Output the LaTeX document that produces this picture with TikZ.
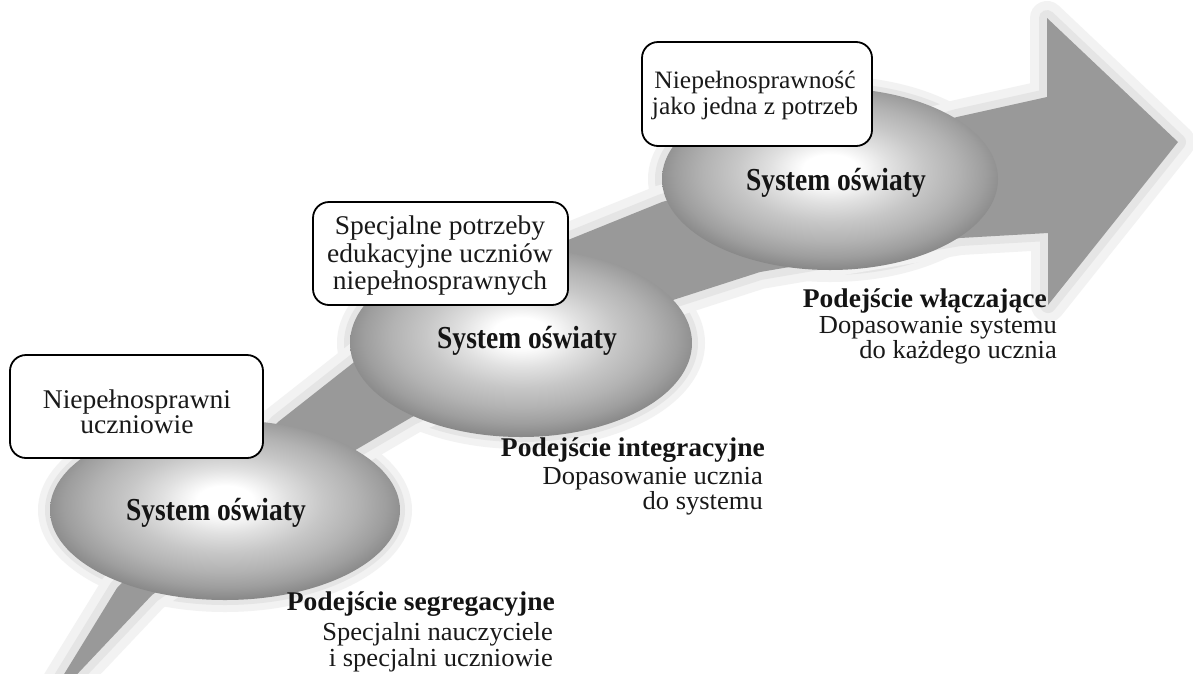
\documentclass[tikz,border=0pt]{standalone}
\usepackage{fontspec}
\setmainfont{Liberation Serif}[FakeStretch=1.02]
\newfontfamily\sysfont{Liberation Serif}[FakeStretch=0.86]
\usetikzlibrary{shapes.geometric}
\pgfdeclareradialshading{orb}{\pgfpoint{0bp}{3bp}}{color(0bp)=(white); color(4bp)=(white); color(9bp)=(black!12); color(14bp)=(black!22); color(19bp)=(black!30); color(23bp)=(black!38); color(26bp)=(black!46); color(29bp)=(black!52); color(50bp)=(black!52)}
\begin{document}
\begin{tikzpicture}[x=1pt,y=-1pt,
  orb/.style={ellipse, inner sep=0pt, draw=none, shading=orb},
  box/.style={draw=black, line width=1.8pt, fill=white, rounded corners=16pt, inner sep=0pt},
  boxtxt/.style={font=\fontsize{27}{30}\selectfont, anchor=base, inner sep=0pt, text=black!90},
  headtxt/.style={font=\bfseries\fontsize{27}{30}\selectfont, anchor=base east, inner sep=0pt, text=black!92},
  subtxt/.style={font=\fontsize{26}{30}\selectfont, anchor=base east, inner sep=0pt, text=black!90},
  systxt/.style={font=\sysfont\bfseries\fontsize{32}{36}\selectfont, anchor=base, inner sep=0pt, text=black!92}]
\useasboundingbox (0,0) rectangle (1193,673);
\fill[white] (0,0) rectangle (1193,673);
% ellipse glows
\fill[black!5] (225,510) ellipse [x radius=187pt, y radius=102pt];
\fill[black!10] (225,510) ellipse [x radius=180pt, y radius=95pt];
\fill[black!5] (521,343) ellipse [x radius=184pt, y radius=106pt];
\fill[black!10] (521,343) ellipse [x radius=177pt, y radius=99pt];
\fill[black!5] (830,179) ellipse [x radius=182pt, y radius=103pt];
\fill[black!10] (830,179) ellipse [x radius=175pt, y radius=96pt];
% band
\path[save path=\bandp] (58,684) -- (117,588) -- (278,422) -- (353,363) -- (450,288) -- (568,240) -- (662,202) -- (957,117) -- (1047,97) -- (1047,18) -- (1178,142) -- (1048,305) -- (1048,233) -- (960,238) -- (760,272) -- (673,300) -- (412,417) -- (352,452) -- (152,595) -- (66,686) -- cycle;
\draw[black!5, line width=34pt, line join=round, use path=\bandp];
\draw[black!10, line width=16pt, line join=round, use path=\bandp];
\fill[black!40, use path=\bandp];
% ellipses
\node[orb, minimum width=350pt, minimum height=180pt] (e1) at (225,510) {};
\node[orb, minimum width=342pt, minimum height=188pt] (e2) at (521,343) {};
\node[orb, minimum width=336pt, minimum height=182pt] (e3) at (830,179) {};
\node[systxt] (s1) at (216,520) {System oświaty};
\node[systxt] (s2) at (527,348) {System oświaty};
\node[systxt] (s3) at (836,190) {System oświaty};
% boxes
\node[box, minimum width=253pt, minimum height=103pt] (b1) at (136.5,406.5) {};
\node[box, minimum width=255pt, minimum height=103pt] (b2) at (440.5,253.5) {};
\node[box, minimum width=230pt, minimum height=104pt] (b3) at (757,94) {};
\node[boxtxt] (b1a) at (137,408) {Niepełnosprawni};
\node[boxtxt] (b1b) at (137,433) {uczniowie};
\node[boxtxt] (b2a) at (440,234) {Specjalne potrzeby};
\node[boxtxt] (b2b) at (440,262) {edukacyjne uczniów};
\node[boxtxt] (b2c) at (440,289) {niepełnosprawnych};
\node[boxtxt, font=\fontsize{25}{30}\selectfont] (b3a) at (755,88) {Niepełnosprawność};
\node[boxtxt, font=\fontsize{25}{30}\selectfont] (b3b) at (755,114) {jako jedna z potrzeb};
% approaches
\node[headtxt] (h1) at (555,610) {Podejście segregacyjne};
\node[subtxt] (h1a) at (553,640) {Specjalni nauczyciele};
\node[subtxt] (h1b) at (553,666) {i specjalni uczniowie};
\node[headtxt] (h2) at (765,456) {Podejście integracyjne};
\node[subtxt] (h2a) at (763,484) {Dopasowanie ucznia};
\node[subtxt] (h2b) at (763,509) {do systemu};
\node[headtxt] (h3) at (1047,307) {Podejście włączające};
\node[subtxt] (h3a) at (1057,333) {Dopasowanie systemu};
\node[subtxt] (h3b) at (1057,358) {do każdego ucznia};
\end{tikzpicture}
\end{document}
